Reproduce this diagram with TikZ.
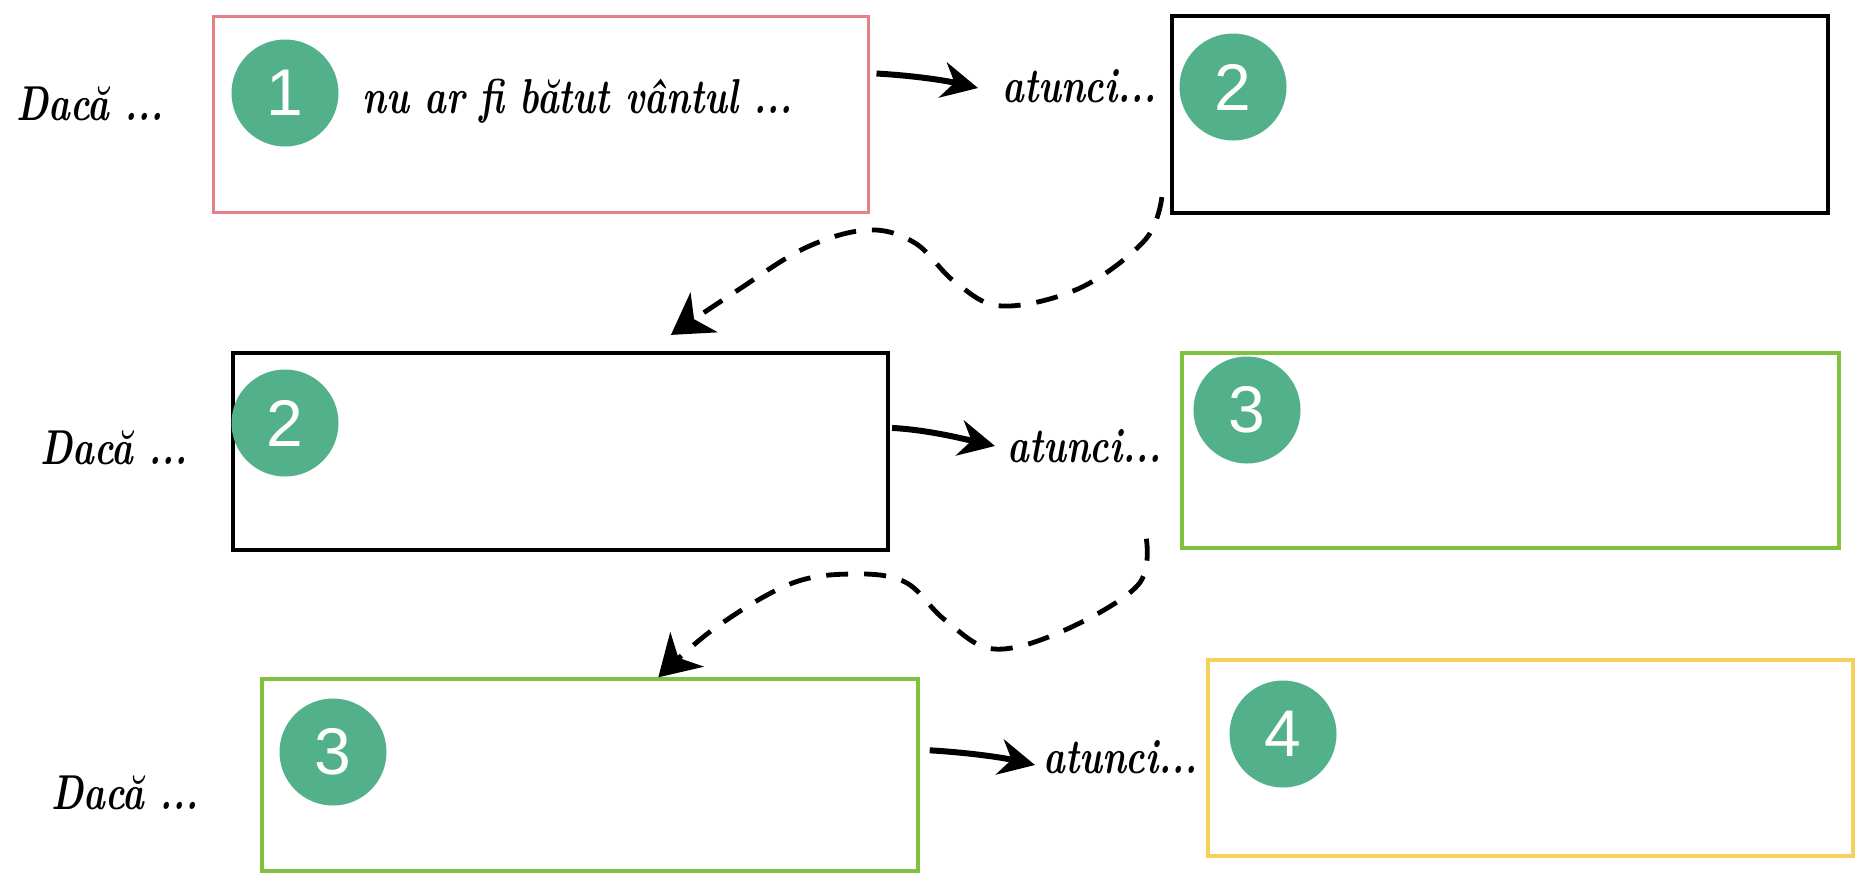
\documentclass[tikz,border=0pt]{standalone}
\usepackage{fontspec}
\newfontfamily\handfont{lmroman10-bolditalic.otf}[FakeStretch=0.75]
\newfontfamily\numfont{Liberation Sans}
\usetikzlibrary{arrows.meta,fit,calc}
\definecolor{numgreen}{RGB}{82,176,138}
\definecolor{pinkc}{RGB}{226,130,134}
\definecolor{greenc}{RGB}{128,194,64}
\definecolor{yellowc}{RGB}{244,208,92}
\begin{document}
\begin{tikzpicture}[x=0.5pt,y=-0.5pt,
  box/.style={draw=#1, line width=2.1pt, inner sep=0pt},
  num/.style={circle, fill=numgreen, minimum size=53.5pt, inner sep=0pt, text=white, font=\numfont\fontsize{33}{33}\selectfont},
  hand/.style={font=\handfont\fontsize{24.5}{28}\selectfont, inner sep=0pt},
  solidarr/.style={line width=3pt, -{Stealth[length=18pt,width=18pt,inset=6pt]}},
  dasharr/.style={line width=2.4pt, dash pattern=on 11pt off 8pt, -{Stealth[length=20pt,width=24pt,inset=6pt]}}]
\useasboundingbox (0,0) rectangle (1856,875);
\fill[white] (0,0) rectangle (1856,875);

% boxes
\node[box=pinkc, line width=1.5pt, fit={(213,16)(868,212)}] (b1) {};
\node[box=black, fit={(1172,16)(1828,213)}] (b2) {};
\node[box=black, fit={(233,353)(888,550)}] (b3) {};
\node[box=greenc, line width=1.7pt, fit={(1182,353)(1839,548)}] (b4) {};
\node[box=greenc, line width=1.7pt, fit={(262,679)(918,871)}] (b5) {};
\node[box=yellowc, line width=1.7pt, fit={(1208,660)(1853,856)}] (b6) {};

% number circles
\node[num] (n1) at (285,93) {1};
\node[num] (n2) at (1233,87) {2};
\node[num] (n3) at (285,423) {2};
\node[num] (n4) at (1247,410) {3};
\node[num] (n5) at (333,752) {3};
\node[num] (n6) at (1283,734) {4};

% texts
\node[hand, anchor=base west] (d1) at (16,120) {Dacă ...};
\node[hand, anchor=base west] (d2) at (40,464) {Dacă ...};
\node[hand, anchor=base west] (d3) at (51,809) {Dacă ...};
\node[hand, anchor=base west] (t1) at (362,113) {nu ar fi bătut vântul ...};
\node[hand, anchor=base west] (a1) at (1002,102) {atunci...};
\node[hand, anchor=base west] (a2) at (1007,462) {atunci...};
\node[hand, anchor=base west] (a3) at (1043,773) {atunci...};

% solid arrows
\draw[solidarr] ($(b1.north east)+(7,59)$) .. controls +(35,2) and +(-35,-8) .. ($(a1.base west)+(-24,-14)$);
\draw[solidarr] ($(b3.north east)+(2,77)$) .. controls +(35,2) and +(-35,-8) .. ($(a2.base west)+(-12,-16)$);
\draw[solidarr] ($(b5.north east)+(10,73)$) .. controls +(35,2) and +(-35,-8) .. ($(a3.base west)+(-8,-8)$);

% dashed arrows
\coordinate (d1s) at ($(b2.south west)+(-8,-18)$);
\coordinate (d1e) at ($(b3.north west)+(440,-16)$);
\draw[dasharr] plot[smooth, tension=0.6] coordinates {(d1s) (1145,240) (1080,288) (1002,306) (955,282) (915,243) (868,230) (805,248) (735,292) (d1e)};
\coordinate (d2s) at ($(b4.south west)+(-34,-11)$);
\coordinate (d2e) at ($(b5.north west)+(398,0)$);
\draw[dasharr] plot[smooth, tension=0.6] coordinates {(d2s) (1138,585) (1065,630) (994,649) (945,620) (905,582) (852,574) (790,584) (715,628) (d2e)};
\end{tikzpicture}
\end{document}
